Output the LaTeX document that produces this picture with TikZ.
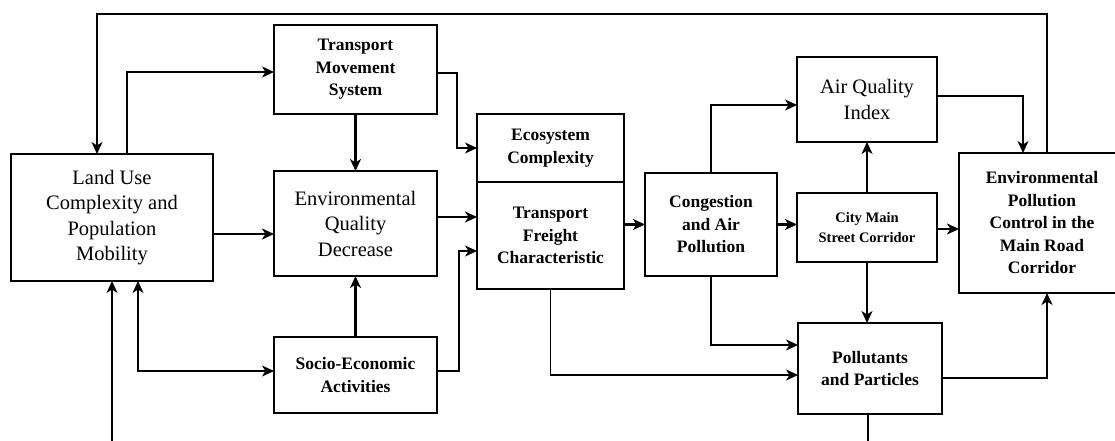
\documentclass[tikz,border=0pt]{standalone}
\usepackage{fontspec}
\setmainfont{Liberation Serif}
\usepackage{tikz}
\usetikzlibrary{arrows.meta, positioning}

\begin{document}
\begin{tikzpicture}[
  x=1pt, y=-1pt,
  box/.style={rectangle, draw=black, line width=1.3pt, align=center,
              inner sep=0pt, outer sep=0pt},
  plainbox/.style={box, font=\fontsize{20.5}{25.5}\selectfont},
  boldbox/.style={box, font=\bfseries\fontsize{17.5}{22.5}\selectfont},
  smallbox/.style={box, font=\bfseries\fontsize{14.5}{20}\selectfont},
  arrow/.style={-{Stealth[length=12pt, width=11pt, inset=3.5pt]}, line width=1.4pt},
  thickarrow/.style={arrow, line width=2.2pt},
  biarrow/.style={{Stealth[length=12pt, width=11pt, inset=3.5pt]}-{Stealth[length=12pt, width=11pt, inset=3.5pt]}, line width=1.4pt}
]
\useasboundingbox (0,0) rectangle (1115,441);
\node[plainbox, minimum width=202pt, minimum height=127pt] (land) at (112,217.5)
  {Land Use\\Complexity and\\Population\\Mobility};
\node[boldbox, minimum width=163pt, minimum height=89pt] (tms) at (355.5,69.5)
  {Transport\\Movement\\System};
\node[plainbox, minimum width=163pt, minimum height=105pt, below=57pt of tms] (eqd)
  {Environmental\\Quality\\Decrease};
\node[boldbox, minimum width=163pt, minimum height=76pt, below=61pt of eqd] (sea)
  {Socio-Economic\\Activities};
\node[boldbox, minimum width=147pt, minimum height=68pt] (eco) at (550.5,148)
  {Ecosystem\\Complexity};
\node[boldbox, minimum width=147pt, minimum height=107pt, below=0pt of eco] (tfc)
  {Transport\\Freight\\Characteristic};
\node[boldbox, minimum width=132pt, minimum height=103pt] (cong) at (711,224.5)
  {Congestion\\and Air\\Pollution};
\node[plainbox, minimum width=140pt, minimum height=85pt] (aqi) at (867,99.5)
  {Air Quality\\Index};
\node[smallbox, minimum width=140pt, minimum height=69pt, below=51pt of aqi] (cmsc)
  {City Main\\Street Corridor};
\node[boldbox, minimum width=144pt, minimum height=91pt] (poll) at (870,368.5)
  {Pollutants\\and Particles};
\node[boldbox, minimum width=166pt, minimum height=140pt] (epc) at (1042,223)
  {Environmental\\Pollution\\Control in the\\Main Road\\Corridor};
\draw[arrow] ([xshift=5]epc.north) -- ++(0,-139) -| ([xshift=-15]land.north);
\draw[arrow] ([xshift=15]land.north) |- ([yshift=-2.5]tms.west);
\draw[thickarrow] (tms.south) -- (eqd.north);
\draw[arrow] ([yshift=-3.5]tms.east) -- ++(20,0) |- (eco.west);
\draw[thickarrow] ([yshift=-16.5]land.east) -- ([yshift=-16.5]land.east -| eqd.west);
\draw[thickarrow] ([yshift=6.5]eqd.east) -- ([yshift=6.5]eqd.east -| tfc.west);
\draw[thickarrow] (sea.north) -- (eqd.south);
\draw[arrow] ([yshift=4]sea.east) -- ++(22,0) |- ([yshift=-15.5]tfc.west);
\draw[biarrow] ([xshift=26]land.south) |- ([yshift=4]sea.west);
\draw[arrow] ([xshift=-2]poll.south) -- ++(0,60) -| (land.south);
\draw[thickarrow] (tfc.east |- cong.west) -- (cong.west);
\draw[arrow] (cong.north) |- ([yshift=-5.5]aqi.west);
\draw[thickarrow] (cong.east) -- (cong.east -| cmsc.west);
\draw[arrow] (cong.south) |- ([yshift=23.5]poll.west);
\draw[arrow] (tfc.south) |- ([yshift=-6.5]poll.west);
\draw[arrow] (cmsc.north) -- (aqi.south);
\draw[arrow] (cmsc.south) -- (cmsc.south |- poll.north);
\draw[thickarrow] ([yshift=-1.5]cmsc.east) -- ([yshift=-1.5]cmsc.east -| epc.west);
\draw[arrow] ([yshift=3.5]aqi.east) -| ([xshift=-19]epc.north);
\draw[arrow] ([yshift=-9.5]poll.east) -| ([xshift=5]epc.south);
\end{tikzpicture}
\end{document}
